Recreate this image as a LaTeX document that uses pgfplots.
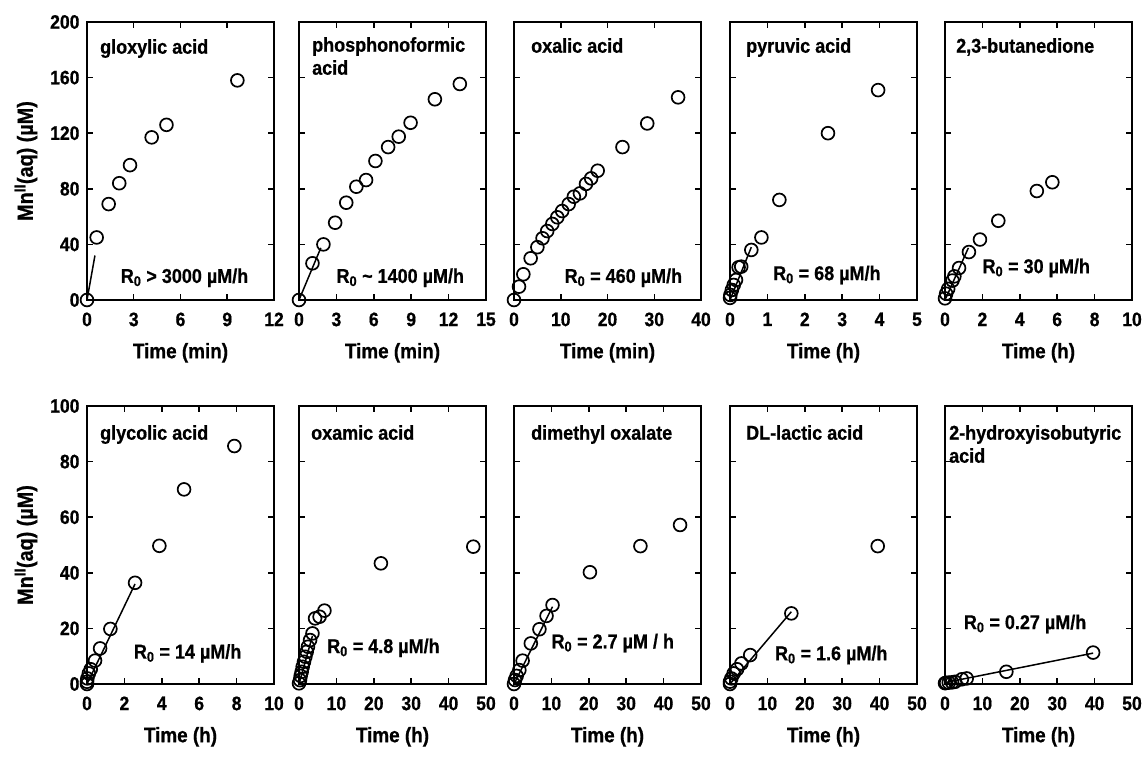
\documentclass[border=0pt]{standalone}
\usepackage{fontspec}
\setmainfont{Liberation Sans}[BoldFeatures={FakeStretch=0.9, FakeBold=0.7}]
\usepackage{pgfplots}
\pgfplotsset{compat=1.18}

\newcommand{\txt}{\fontsize{20}{23}\selectfont\bfseries}
\pgfplotsset{
  panel/.style={
    anchor=south west, scale only axis, width=187pt, height=278pt,
    clip=false,
    axis line style={line width=1.8pt},
    every tick/.style={black, line width=1.5pt},
    major tick length=6pt, tick align=inside,
    tick label style={font=\fontsize{19.5}{19.5}\selectfont\bfseries},
    /pgf/number format/assume math mode=true,
    xticklabel style={yshift=-9pt},
    yticklabel style={xshift=-4pt},
    every axis x label/.style={at={(axis description cs:0.5,-0.19)}, anchor=center, font=\fontsize{21}{21}\selectfont\bfseries},
    every axis y label/.style={at={(axis description cs:-0.326,0.5)}, rotate=90, anchor=center, font=\fontsize{22}{22}\selectfont\bfseries},
  },
  top/.style={panel, ymin=0, ymax=200, ytick={0,40,...,200}},
  bot/.style={panel, ymin=0, ymax=100, ytick={0,20,...,100}},
  pts/.style={only marks, mark=o, mark size=6.4pt, mark options={line width=1.7pt, black}},
  fit/.style={black, line width=1.5pt, no marks},
}
\newcommand{\ttl}[3]{\node[anchor=north west, inner sep=0pt, align=left, font=\txt, xshift=#1, yshift=#2] at (rel axis cs:0,1) {#3};}
\newcommand{\rate}[3]{\node[anchor=west, inner sep=0pt, font=\txt] at (rel axis cs:#1,#2) {#3};}

\begin{document}
\begin{tikzpicture}
\useasboundingbox (0pt,0pt) rectangle (1144pt,757pt);

% ---- top row ----
\begin{axis}[top, at={(87pt,457pt)}, xmin=0, xmax=12, xtick={0,3,...,12},
  xlabel={Time (min)}, ylabel={Mn\textsuperscript{II}(aq) (µM)}]
\addplot[fit] coordinates {(0,0) (0.51,32)};
\addplot[pts] coordinates {(0,0) (0.62,45) (1.39,69) (2.07,84) (2.76,97) (4.15,117) (5.1,126) (9.65,158)};
\ttl{13pt}{-17pt}{gloxylic acid}
\rate{0.18}{0.08}{R\textsubscript{0} > 3000 µM/h}
\end{axis}

\begin{axis}[top, at={(299pt,457pt)}, xmin=0, xmax=15, xtick={0,3,...,15},
  yticklabels={}, xlabel={Time (min)}]
\addplot[fit] coordinates {(0,0) (1.75,37.5)};
\addplot[pts] coordinates {(0,0) (1.08,26.4) (1.96,40) (2.9,55.6) (3.79,70) (4.6,81.5) (5.38,86.3) (6.13,100) (7.15,110) (8.0,117.5) (8.95,127.5) (10.9,144.4) (12.9,155.4)};
\ttl{13pt}{-15pt}{phosphonoformic\\acid}
\rate{0.2}{0.08}{R\textsubscript{0} \textasciitilde{} 1400 µM/h}
\end{axis}

\begin{axis}[top, at={(514pt,457pt)}, xmin=0, xmax=40, xtick={0,10,...,40},
  yticklabels={}, xlabel={Time (min)}]
\addplot[pts] coordinates {(0,0) (1.07,9.6) (2.0,18.5) (3.56,30) (5.0,38) (6.1,44.4) (7.1,49.6) (8.2,54.7) (9.26,59.5) (10.3,64) (11.7,69) (12.8,74.3) (14.1,76.7) (15.4,83.5) (16.5,87.5) (17.9,93) (23.2,110) (28.5,127) (35.1,145.8)};
\ttl{17pt}{-16pt}{oxalic acid}
\rate{0.27}{0.08}{R\textsubscript{0} = 460 µM/h}
\end{axis}

\begin{axis}[top, at={(730pt,457pt)}, xmin=0, xmax=5, xtick={0,1,...,5},
  yticklabels={}, xlabel={Time (h)}]
\addplot[fit] coordinates {(0,0) (0.57,38)};
\addplot[pts] coordinates {(0,1.5) (0.01,3.6) (0.05,7.2) (0.1,10.8) (0.16,14.4) (0.23,23.5) (0.3,24) (0.57,36) (0.84,45) (1.32,72) (2.62,120) (3.96,151)};
\ttl{16pt}{-16pt}{pyruvic acid}
\rate{0.23}{0.09}{R\textsubscript{0} = 68 µM/h}
\end{axis}

\begin{axis}[top, at={(945pt,457pt)}, xmin=0, xmax=10, xtick={0,2,...,10},
  yticklabels={}, xlabel={Time (h)}]
\addplot[fit] coordinates {(0,0) (1.25,37.5)};
\addplot[pts] coordinates {(0,1.2) (0.06,4.5) (0.17,8) (0.4,14) (0.5,17) (0.75,23) (1.28,34.5) (1.87,43.5) (2.85,57) (4.91,78.4) (5.74,84.7)};
\ttl{11pt}{-16pt}{2,3-butanedione}
\rate{0.2}{0.115}{R\textsubscript{0} = 30 µM/h}
\end{axis}

% ---- bottom row ----
\begin{axis}[bot, at={(87pt,73pt)}, xmin=0, xmax=10, xtick={0,2,...,10},
  xlabel={Time (h)}, ylabel={Mn\textsuperscript{II}(aq) (µM)}]
\addplot[fit] coordinates {(0,0) (2.57,36)};
\addplot[pts] coordinates {(0,0) (0,0.8) (0.02,2) (0.1,3.8) (0.2,5.3) (0.43,8.4) (0.7,12.8) (1.25,19.8) (2.57,36.4) (3.87,49.7) (5.19,70) (7.88,85.6)};
\ttl{13pt}{-19pt}{glycolic acid}
\rate{0.25}{0.11}{R\textsubscript{0} = 14 µM/h}
\end{axis}

\begin{axis}[bot, at={(299pt,73pt)}, xmin=0, xmax=50, xtick={0,10,...,50},
  yticklabels={}, xlabel={Time (h)}]
\addplot[fit] coordinates {(0,0) (3.6,17.3)};
\addplot[pts] coordinates {(0,0.24) (0.27,1.4) (0.45,2.9) (0.72,4.4) (0.99,6.2) (1.34,8.0) (1.7,9.8) (2.06,11.6) (2.4,13.4) (2.96,15.8) (3.6,18.2) (4.3,23.6) (5.5,24.2) (6.8,26.4) (21.9,43.4) (46.6,49.4)};
\ttl{12pt}{-19pt}{oxamic acid}
\rate{0.15}{0.13}{R\textsubscript{0} = 4.8 µM/h}
\end{axis}

\begin{axis}[bot, at={(514pt,73pt)}, xmin=0, xmax=50, xtick={0,10,...,50},
  yticklabels={}, xlabel={Time (h)}]
\addplot[fit] coordinates {(0,0) (10.3,27.8)};
\addplot[pts] coordinates {(0,0) (0.27,1.44) (0.71,2.9) (1.43,5.0) (2.3,8.4) (4.5,14.6) (6.8,19.7) (8.7,24.5) (10.3,28.4) (20.3,40.2) (33.8,49.6) (44.4,57.2)};
\ttl{17pt}{-19pt}{dimethyl oxalate}
\rate{0.2}{0.147}{R\textsubscript{0} = 2.7 µM / h}
\end{axis}

\begin{axis}[bot, at={(730pt,73pt)}, xmin=0, xmax=50, xtick={0,10,...,50},
  yticklabels={}, xlabel={Time (h)}]
\addplot[fit] coordinates {(0,0) (16.4,26)};
\addplot[pts] coordinates {(0,0) (0,0.84) (0.36,2.0) (0.98,3.8) (1.88,5.3) (3.05,7.4) (5.4,10.4) (16.4,25.4) (39.5,49.6)};
\ttl{16pt}{-19pt}{DL-lactic acid}
\rate{0.24}{0.104}{R\textsubscript{0} = 1.6 µM/h}
\end{axis}

\begin{axis}[bot, at={(945pt,73pt)}, xmin=0, xmax=50, xtick={0,10,...,50},
  yticklabels={}, xlabel={Time (h)}]
\addplot[fit] coordinates {(0,0.5) (39.6,11.1)};
\addplot[pts] coordinates {(0,0.3) (0.3,0.4) (1.0,0.5) (1.9,0.6) (2.7,0.8) (4.5,1.7) (5.8,2.0) (16.4,4.4) (39.6,11.3)};
\ttl{4pt}{-19pt}{2-hydroxyisobutyric\\acid}
\rate{0.1}{0.216}{R\textsubscript{0} = 0.27 µM/h}
\end{axis}
\end{tikzpicture}
\end{document}
